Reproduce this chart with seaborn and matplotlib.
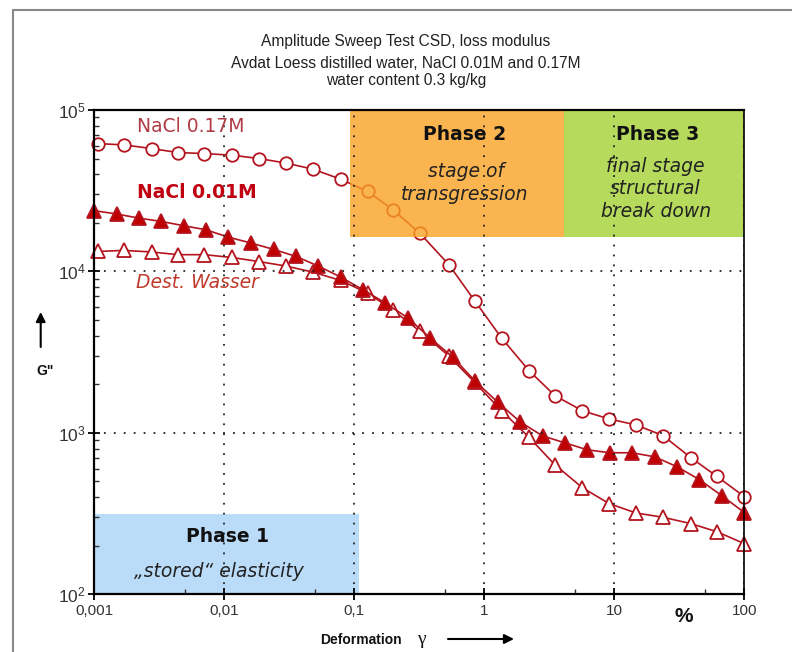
import matplotlib
matplotlib.use("Agg")
import matplotlib.pyplot as plt
import seaborn as sns
from matplotlib.lines import Line2D
from matplotlib.ticker import FixedLocator, FixedFormatter, NullFormatter, LogLocator

# ---------------- data ----------------
# shared strain values for NaCl 0.17M and distilled water (%)
x_circ = [0.00108, 0.0017, 0.00277, 0.00442, 0.00707, 0.0115, 0.0187, 0.0299,
          0.0483, 0.0786, 0.127, 0.199, 0.321, 0.536, 0.843, 1.36, 2.21, 3.50,
          5.70, 9.11, 14.7, 23.7, 38.9, 61.7, 100]
g_nacl017 = [61900, 60800, 57700, 54500, 53700, 52500, 50000, 46900, 43000,
             37300, 31300, 24100, 17200, 11000, 6600, 3870, 2430, 1700, 1370,
             1220, 1120, 962, 701, 537, 403]
g_water = [13300, 13500, 13200, 12700, 12700, 12200, 11500, 10800, 9900, 8800,
           7350, 5750, 4260, 2990, 2060, 1370, 940, 634, 457, 365, 319, 300,
           274, 244, 206]
# strain values for NaCl 0.01M (%)
x_tri = [0.001, 0.00149, 0.00221, 0.00329, 0.00489, 0.00728, 0.0108, 0.0161,
         0.0240, 0.0356, 0.0530, 0.0788, 0.117, 0.174, 0.259, 0.386, 0.574,
         0.853, 1.27, 1.89, 2.81, 4.18, 6.21, 9.24, 13.7, 20.4, 30.4, 45.2,
         67.2, 100]
g_nacl001 = [23800, 22700, 21400, 20400, 19200, 18100, 16300, 15000, 13700,
             12400, 10800, 9230, 7710, 6370, 5150, 3860, 2940, 2090, 1550, 1170,
             958, 867, 785, 753, 753, 711, 617, 513, 408, 321]

# phase regions: (x0, x1, y0, y1)
phase1 = (0.001, 0.109, 100, 314)
phase2 = (0.0929, 4.11, 16400, 1e5)
phase3 = (4.11, 100, 16400, 1e5)

xticks = [0.001, 0.01, 0.1, 1, 10, 100]
xtick_labels = ["0,001", "0,01", "0,1", "1", "10", "100"]
xminor = [0.005, 0.05, 0.5, 5, 50]
yticks = [1e2, 1e3, 1e4, 1e5]
ytick_labels = [r"$10^{2}$", r"$10^{3}$", r"$10^{4}$", r"$10^{5}$"]

title_lines = ["Amplitude Sweep Test CSD, loss modulus",
               "Avdat Loess distilled water, NaCl 0.01M and 0.17M",
               "water content 0.3 kg/kg"]

# ---------------- style ----------------
sns.set_style("white")
plt.rcParams["font.family"] = ["Liberation Sans", "DejaVu Sans"]
plt.rcParams["mathtext.fontset"] = "custom"
plt.rcParams["mathtext.rm"] = "Liberation Sans"
plt.rcParams["mathtext.it"] = "Liberation Sans:italic"
plt.rcParams["mathtext.bf"] = "Liberation Sans:bold"

RED = "#B3141E"
ORANGE = "#F9A124"
GREEN = "#B6DA5C"
BLUE = "#BBDCF8"

W, H = 792, 652
def fx(px):
    return px / W
def fy(py):
    return 1 - py / H

fig = plt.figure(figsize=(W / 100, H / 100), dpi=100)
fig.patch.set_facecolor("white")
ax = fig.add_axes([fx(94), fy(594.3), (744.3 - 94) / W, (594.3 - 110) / H])
ax.set_facecolor("white")
ax.set_xscale("log")
ax.set_yscale("log")

# phase boxes
ax.fill_between([phase1[0], phase1[1]], phase1[2], phase1[3], color=BLUE, lw=0, zorder=1)
ax.fill_between([phase3[0], phase3[1]], phase3[2], phase3[3], color=GREEN, lw=0, zorder=1)

# data series
common = dict(ax=ax, color=RED, linewidth=1.2, markeredgewidth=1.3,
              markeredgecolor=RED, clip_on=False, estimator=None, sort=False)
sns.lineplot(x=x_circ, y=g_nacl017, marker="o", markersize=9,
             markerfacecolor="white", **common)
sns.lineplot(x=x_circ, y=g_water, marker="^", markersize=10,
             markerfacecolor="white", **common)
sns.lineplot(x=x_tri, y=g_nacl001, marker="^", markersize=10,
             markerfacecolor="#C00000", **common)

# orange phase over the data (semi-transparent)
ax.fill_between([phase2[0], phase2[1]], phase2[2], phase2[3], color=ORANGE,
                alpha=0.8, lw=0, zorder=2.2)

ax.set_xlim(1e-3, 100)
ax.set_ylim(100, 1e5)
ax.set_xlabel("")
ax.set_ylabel("")

ax.xaxis.set_major_locator(FixedLocator(xticks))
ax.xaxis.set_major_formatter(FixedFormatter(xtick_labels))
ax.xaxis.set_minor_locator(FixedLocator(xminor))
ax.xaxis.set_minor_formatter(NullFormatter())
ax.yaxis.set_major_locator(FixedLocator(yticks))
ax.yaxis.set_major_formatter(FixedFormatter(ytick_labels))
ax.yaxis.set_minor_locator(LogLocator(base=10, subs=range(2, 10)))
ax.yaxis.set_minor_formatter(NullFormatter())

ax.tick_params(which="major", direction="inout", length=8, width=1.3,
               color="black", labelsize=11, labelcolor="#333333")
ax.tick_params(axis="x", which="major", pad=3)
ax.tick_params(axis="y", which="major", pad=2, labelsize=12.5)
ax.tick_params(which="minor", direction="in", length=3.5, width=1, color="#333333")
ax.tick_params(which="both", bottom=True, left=True, top=False, right=False)

ax.grid(True, which="major", color="#222222", linestyle=(0, (1, 4.5)), linewidth=1.3)
ax.set_axisbelow(False)

for side in ["left", "bottom", "top"]:
    ax.spines[side].set_color("black")
    ax.spines[side].set_linewidth(1.6)
    ax.spines[side].set_zorder(5)
ax.spines["right"].set_color("black")
ax.spines["right"].set_linewidth(1.2)
ax.spines["right"].set_zorder(5)

# ---------------- texts ----------------
for txt, py in zip(title_lines, [41.7, 63.3, 80]):
    fig.text(fx(406), fy(py), txt, ha="center", va="center", fontsize=11.2, color="#222222")

ann = dict(ha="center", va="center", fontsize=13.5, family=["DejaVu Sans"])
fig.text(fx(190.5), fy(126.7), "NaCl 0.17M", color="#B03A45", **ann)
fig.text(fx(197), fy(192.7), "NaCl 0.01M", color="#C00010", fontweight="bold", **ann)
fig.text(fx(197), fy(282.7), "Dest. Wasser", color="#C0392B", style="italic", **ann)

fig.text(fx(465), fy(134), "Phase 2", color="#111111", fontweight="bold", **ann)
fig.text(fx(466), fy(171.5), "stage of", color="#222222", style="italic", **ann)
fig.text(fx(465), fy(195), "transgression", color="#222222", style="italic", **ann)

fig.text(fx(657.5), fy(134), "Phase 3", color="#111111", fontweight="bold", **ann)
fig.text(fx(655), fy(166.7), "final stage", color="#222222", style="italic", **ann)
fig.text(fx(655), fy(189), "structural", color="#222222", style="italic", **ann)
fig.text(fx(656.5), fy(211.7), "break down", color="#222222", style="italic", **ann)

fig.text(fx(227), fy(536.7), "Phase 1", color="#111111", fontweight="bold", **ann)
fig.text(fx(219), fy(571.7), "\u201estored\u201c elasticity", color="#222222", style="italic", **ann)

fig.text(fx(684), fy(616), "%", ha="center", va="center", fontsize=15,
         fontweight="bold", color="#111111")
fig.text(fx(361), fy(640), "Deformation", ha="center", va="center", fontsize=10,
         fontweight="bold", color="#111111")
fig.text(fx(421), fy(639), "\u03b3", ha="center", va="center", fontsize=14,
         family=["Liberation Serif", "DejaVu Serif"], color="#111111")
fig.text(fx(45), fy(371), 'G"', ha="center", va="center", fontsize=10,
         fontweight="bold", color="#111111")

# arrows
arrow = dict(arrowstyle="-|>", color="black", lw=1.5, mutation_scale=14,
             shrinkA=0, shrinkB=0)
ax.annotate("", xy=(fx(514), fy(639)), xytext=(fx(448), fy(639)),
            xycoords="figure fraction", textcoords="figure fraction",
            arrowprops=arrow, annotation_clip=False)
ax.annotate("", xy=(fx(40.7), fy(312)), xytext=(fx(40.7), fy(347)),
            xycoords="figure fraction", textcoords="figure fraction",
            arrowprops=arrow, annotation_clip=False)

# outer frame (left and top edges visible)
fig.add_artist(Line2D([fx(12.7), fx(12.7)], [fy(10), 0], transform=fig.transFigure,
                      color="#888888", lw=1.5))
fig.add_artist(Line2D([fx(12.7), 1], [fy(10), fy(10)], transform=fig.transFigure,
                      color="#888888", lw=1.5))

fig.savefig("out.png", dpi=100, facecolor="white")
